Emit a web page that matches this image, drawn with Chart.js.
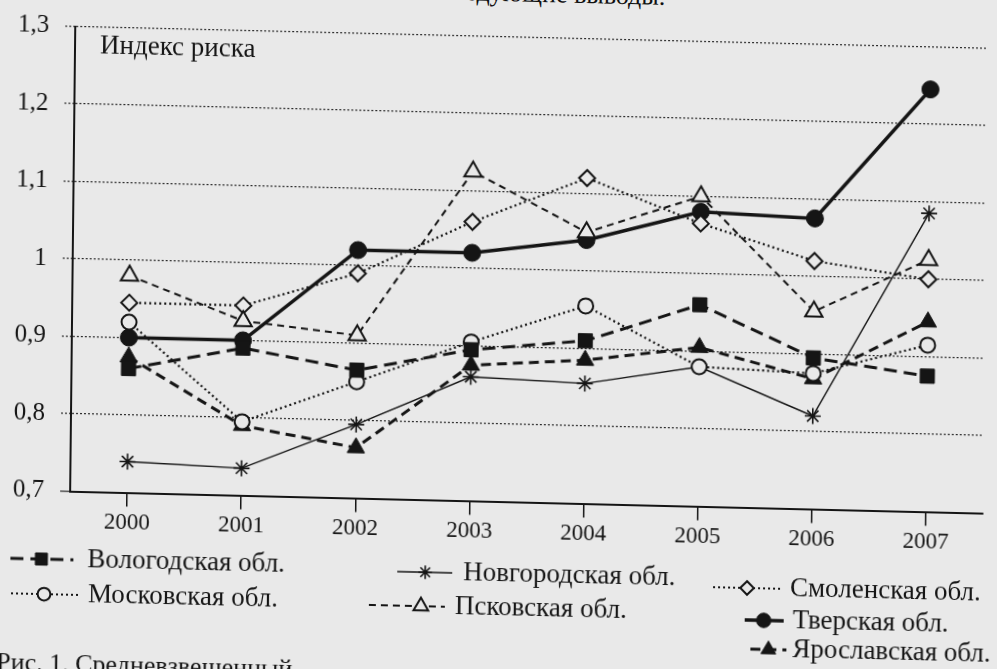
<!DOCTYPE html>
<html lang="ru">
<head>
<meta charset="utf-8">
<title>Индекс риска</title>
<script src="https://cdn.jsdelivr.net/npm/chart.js@4.4.1/dist/chart.umd.min.js"></script>
<style>
  html, body { margin: 0; padding: 0; background: #e9e9e9; overflow: hidden; }
  /* the scan is skewed a little: rows drop to the right, columns lean left */
  #page { position: absolute; left: 0; top: 0; width: 997px; height: 669px; transform: matrix(1, 0.024, -0.011, 1, 0, 0); }
  #chart { position: absolute; left: 0; top: 0; }
  .note { position: absolute; font-family: "Liberation Serif", serif; font-size: 26px; color: #111; white-space: nowrap; line-height: 30px; }
</style>
</head>
<body>
<div id="page">
  <div class="note" style="left:437px; top:-22px;">следующие выводы.</div>
  <canvas id="chart" width="997" height="669"></canvas>
  <div class="note" style="left:0px; top:659px;">Рис. 1. Средневзвешенный</div>
</div>
<script>
const years = ['2000', '2001', '2002', '2003', '2004', '2005', '2006', '2007'];

const vologda   = [0.86, 0.89, 0.865, 0.895, 0.91, 0.96, 0.895, 0.875];
const moscow    = [0.92, 0.795, 0.85, 0.905, 0.955, 0.88, 0.875, 0.915];
const novgorod  = [0.74, 0.735, 0.795, 0.86, 0.855, 0.88, 0.82, 1.085];
const pskov     = [0.98, 0.925, 0.91, 1.125, 1.05, 1.10, 0.955, 1.025];
const smolensk  = [0.945, 0.945, 0.99, 1.06, 1.12, 1.065, 1.02, 1.0];
const tver      = [0.90, 0.90, 1.02, 1.02, 1.04, 1.08, 1.075, 1.245];
const yaroslavl = [0.875, 0.79, 0.765, 0.875, 0.885, 0.905, 0.868, 0.945];

const yTicks = [0.7, 0.8, 0.9, 1.0, 1.1, 1.2, 1.3];
const yTitle = 'Индекс риска';

const ink = '#151515';
const paper = '#e9e9e9';
const serif = '"Liberation Serif", "Times New Roman", serif';

function series(label, data, style) {
  return Object.assign({
    label: label,
    data: data,
    borderColor: ink,
    pointBorderColor: ink,
    fill: false,
    tension: 0
  }, style);
}

const datasets = [
  series('Вологодская обл.', vologda, { borderWidth: 3, borderDash: [13, 7], pointStyle: 'rect', pointRadius: 10, pointBackgroundColor: ink, pointBorderWidth: 1 }),
  series('Московская обл.', moscow, { borderWidth: 2.2, borderDash: [2, 3], pointStyle: 'circle', pointRadius: 7.5, pointBackgroundColor: paper, pointBorderWidth: 2 }),
  series('Новгородская обл.', novgorod, { borderWidth: 1.4, pointStyle: 'star', pointRadius: 8, pointBackgroundColor: ink, pointBorderWidth: 1.6 }),
  series('Псковская обл.', pskov, { borderWidth: 2, borderDash: [7, 5], pointStyle: 'triangle', pointRadius: 10, pointBackgroundColor: paper, pointBorderWidth: 2 }),
  series('Смоленская обл.', smolensk, { borderWidth: 2.2, borderDash: [2, 3], pointStyle: 'rectRot', pointRadius: 8, pointBackgroundColor: paper, pointBorderWidth: 2 }),
  series('Тверская обл.', tver, { borderWidth: 3.5, pointStyle: 'circle', pointRadius: 8.5, pointBackgroundColor: ink, pointBorderWidth: 1 }),
  series('Ярославская обл.', yaroslavl, { borderWidth: 3, borderDash: [10, 6], pointStyle: 'triangle', pointRadius: 10, pointBackgroundColor: ink, pointBorderWidth: 1 })
];

// legend sample: line from x0 to x1, marker at mx, label at tx, all on row y
const legendPlaces = [
  { x0: 13, x1: 76, mx: 44, tx: 90, y: 570 },
  { x0: 14, x1: 84, mx: 47, tx: 91, y: 605 },
  { x0: 400, x1: 455, mx: 428, tx: 466, y: 574 },
  { x0: 372, x1: 448, mx: 424, tx: 458, y: 608 },
  { x0: 716, x1: 785, mx: 750, tx: 793, y: 582 },
  { x0: 748, x1: 787, mx: 767, tx: 796, y: 614 },
  { x0: 754, x1: 790, mx: 772, tx: 796, y: 643 }
];

const paperPlugin = {
  id: 'paperText',
  afterDraw(chart) {
    const ctx = chart.ctx;
    ctx.save();
    ctx.fillStyle = ink;
    ctx.textBaseline = 'middle';
    ctx.font = '27px ' + serif;
    ctx.fillText(yTitle, 97, 56);

    ctx.font = '27px ' + serif;
    chart.data.datasets.forEach(function(ds, i) {
      const p = legendPlaces[i];
      ctx.strokeStyle = ink;
      ctx.lineWidth = ds.borderWidth;
      ctx.setLineDash(ds.borderDash || []);
      ctx.beginPath();
      ctx.moveTo(p.x0, p.y);
      ctx.lineTo(p.x1, p.y);
      ctx.stroke();
      ctx.setLineDash([]);
      ctx.fillStyle = ds.pointBackgroundColor;
      ctx.lineWidth = ds.pointBorderWidth;
      Chart.helpers.drawPoint(ctx, {
        pointStyle: ds.pointStyle,
        radius: ds.pointRadius * 0.85,
        rotation: 0,
        borderWidth: ds.pointBorderWidth
      }, p.mx, p.y);
      ctx.fillStyle = ink;
      ctx.fillText(ds.label, p.tx, p.y);
    });
    ctx.restore();
  }
};

const ctx = document.querySelector('#chart').getContext('2d');

const riskChart = new Chart(ctx, {
  type: 'line',
  data: {
    labels: years,
    datasets: datasets
  },
  options: {
    responsive: false,
    animation: false,
    layout: { padding: { top: 36.5, right: 0, bottom: 125.5, left: 0 } },
    plugins: {
      legend: { display: false },
      tooltip: { enabled: false }
    },
    scales: {
      x: {
        offset: true,
        grid: { drawOnChartArea: false, drawTicks: true, tickLength: 14, offset: false, color: ink, lineWidth: 1.5 },
        border: { display: true, color: ink, width: 2 },
        ticks: { color: ink, font: { family: serif, size: 23 }, padding: 3, maxRotation: 0, autoSkip: false },
        afterFit: function(scale) { scale.height = 42; }
      },
      y: {
        min: 0.7,
        max: 1.3,
        afterBuildTicks: function(scale) {
          scale.ticks = yTicks.map(function(v) { return { value: v }; });
        },
        grid: {
          color: '#2a2a2a',
          lineWidth: 1.2,
          drawTicks: true,
          tickLength: 10,
          tickColor: '#2a2a2a',
          tickBorderDash: function(c) { return c.index === 0 ? [] : [2, 2]; }
        },
        border: { display: true, color: ink, width: 2, dash: [2, 2] },
        ticks: {
          color: ink,
          font: { family: serif, size: 25 },
          padding: 16,
          callback: function(v) { return String(Math.round(v * 10) / 10).replace('.', ','); }
        },
        afterFit: function(scale) { scale.width = 72; }
      }
    }
  },
  plugins: [paperPlugin]
});
</script>
</body>
</html>
